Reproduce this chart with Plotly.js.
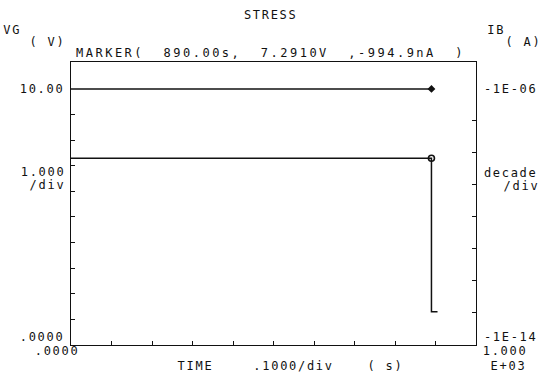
<!DOCTYPE html>
<html>
<head>
<meta charset="utf-8">
<script src="https://cdn.plot.ly/plotly-3.0.1.min.js"></script>
<style>
html,body{margin:0;padding:0;background:#fff;}
#chart{width:542px;height:376px;}
</style>
</head>
<body>
<div id="chart"></div>
<script>
// ---- data ----
var timeIB = [0, 890];                    // s
var ibMag = [994.9e-9, 994.9e-9];         // |IB| in A (log axis, labelled as negative)
var timeVG = [0, 890, 890, 905];          // s
var vgValues = [7.291, 7.291, 1.3, 1.3];  // V
var markerTime = [890];
var markerVG = [7.291];
var markerIB = [994.9e-9];
var xTickVals = [100, 200, 300, 400, 500, 600, 700, 800, 900];
var yTickVals = [1, 2, 3, 4, 5, 6, 7, 8, 9];
var y2TickVals = [1e-13, 1e-12, 1e-11, 1e-10, 1e-9, 1e-8, 1e-7];
var markerText = 'MARKER(  890.00s,  7.2910V  ,-994.9nA  )';

var ink = '#111';
var F = 'DejaVu Sans Mono, monospace';
var fs = 12;

var traces = [
  {x: timeVG, y: vgValues, mode: 'lines', line: {color: ink, width: 1.5}, yaxis: 'y', hoverinfo: 'skip'},
  {x: timeIB, y: ibMag, mode: 'lines', line: {color: ink, width: 1.5}, yaxis: 'y2', hoverinfo: 'skip'},
  {x: markerTime, y: markerVG, mode: 'markers', marker: {symbol: 'circle-open', size: 6, color: ink, line: {width: 1.6, color: ink}}, yaxis: 'y', hoverinfo: 'skip'},
  {x: markerTime, y: markerIB, mode: 'markers', marker: {symbol: 'diamond', size: 6, color: ink}, yaxis: 'y2', hoverinfo: 'skip'}
];

// all labels are centred on a point; dx/dy are pixel offsets
function ann(text, x, y, xref, yref, dx, dy) {
  return {text: text, x: x, y: y, xref: xref, yref: yref, xanchor: 'center', yanchor: 'middle',
          xshift: dx || 0, yshift: dy || 0,
          showarrow: false, font: {family: F, size: fs, color: ink}};
}

var annotations = [
  ann('STRESS', 0.5, 1, 'paper', 'paper', -3, 47),
  ann('VG', 0, 1, 'paper', 'paper', -59, 32),
  ann('( V)', 0, 1, 'paper', 'paper', -24, 20),
  ann('IB', 1, 1, 'paper', 'paper', 20, 32),
  ann('( A)', 1, 1, 'paper', 'paper', 47, 20),
  ann(markerText, 0.5, 1, 'paper', 'paper', -3, 9),
  ann('10.00', 0, 10, 'paper', 'y', -29, 0),
  ann('1.000', 0, 7.291, 'paper', 'y', -28, -14),
  ann('/div', 0, 7.291, 'paper', 'y', -24, -27),
  ann('.0000', 0, 0, 'paper', 'y', -29, 8),
  ann('.0000', 0, 0, 'x', 'paper', -14, -6),
  ann('TIME', 0.5, 0, 'paper', 'paper', -78, -21),
  ann('.1000/div', 0.5, 0, 'paper', 'paper', 20, -21),
  ann('( s)', 0.5, 0, 'paper', 'paper', 112, -21),
  ann('1.000', 1000, 0, 'x', 'paper', 29, -6),
  ann('E+03', 1000, 0, 'x', 'paper', 32, -21),
  ann('-1E-06', 1, -6, 'paper', 'y2', 34, 0),
  ann('decade', 1, -6, 'paper', 'y2', 34, -84),
  ann('/div', 1, -6, 'paper', 'y2', 45, -97),
  ann('-1E-14', 1, -14, 'paper', 'y2', 34, 8)
];

var layout = {
  width: 542, height: 376,
  margin: {l: 71, r: 66, t: 62, b: 31, pad: 0},
  paper_bgcolor: '#fff', plot_bgcolor: '#fff',
  showlegend: false,
  xaxis: {range: [0, 1000], showgrid: false, zeroline: false, showline: true, mirror: true,
          linecolor: ink, linewidth: 1.2, ticks: 'inside', tickvals: xTickVals, ticklen: 4,
          tickcolor: ink, showticklabels: false, fixedrange: true},
  yaxis: {range: [0, 11.05], showgrid: false, zeroline: false, showline: true, mirror: true,
          linecolor: ink, linewidth: 1.2, ticks: 'inside', tickvals: yTickVals, ticklen: 4,
          tickcolor: ink, showticklabels: false, fixedrange: true},
  yaxis2: {type: 'log', range: [-14, -5.16], overlaying: 'y', side: 'right', showgrid: false,
           zeroline: false, showline: false, ticks: 'inside', tickvals: y2TickVals, ticklen: 4,
           tickcolor: ink, showticklabels: false, fixedrange: true},
  annotations: annotations
};

Plotly.newPlot('chart', traces, layout, {staticPlot: true, displayModeBar: false}).then(function () {
  // plotter lettering is wide: open up the letter spacing of every label
  document.querySelectorAll('.annotation-text').forEach(function (t) {
    var isMarker = t.textContent.indexOf('MARKER') === 0;
    t.style.letterSpacing = isMarker ? '2.5px' : '1.7px';
  });
});
</script>
</body>
</html>
